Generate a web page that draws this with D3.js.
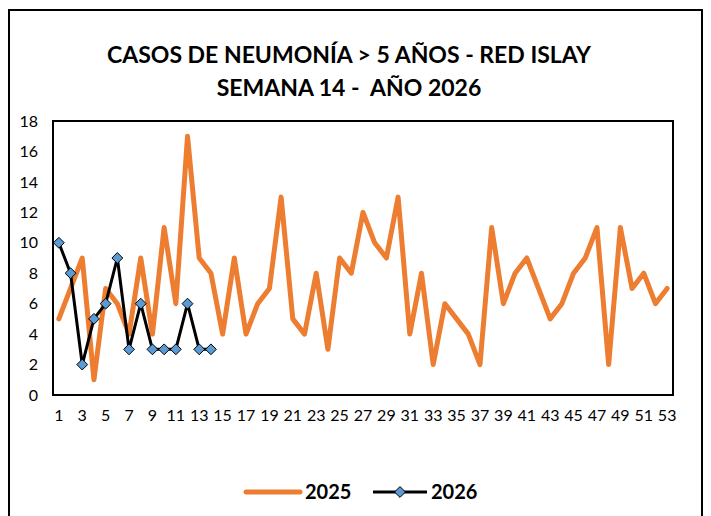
<!DOCTYPE html>
<html>
<head>
<meta charset="utf-8">
<script src="https://cdn.jsdelivr.net/npm/d3@7"></script>
<style>
  body { margin: 0; background: #fff; }
  svg { display: block; font-family: Lato, "Open Sans", sans-serif; }
</style>
</head>
<body>
<svg id="chart" width="711" height="516"></svg>
<script>
var weeks = d3.range(1, 54);
var casos2025 = [5, 7, 9, 1, 7, 6, 4, 9, 4, 11, 6, 17, 9, 8, 4, 9, 4, 6, 7, 13,
                 5, 4, 8, 3, 9, 8, 12, 10, 9, 13, 4, 8, 2, 6, 5, 4, 2, 11, 6, 8,
                 9, 7, 5, 6, 8, 9, 11, 2, 11, 7, 8, 6, 7];
var casos2026 = [10, 8, 2, 5, 6, 9, 3, 6, 3, 3, 3, 6, 3, 3];
var yTicks = [0, 2, 4, 6, 8, 10, 12, 14, 16, 18];
var titleLines = ["CASOS DE NEUMONÍA > 5 AÑOS - RED ISLAY", "SEMANA 14 -  AÑO 2026"];

(function(){
  var svg = d3.select("#chart");
  var pLeft = 53, pRight = 673, pTop = 121, pBottom = 395;

  // outer frame (bottom edge runs past the picture)
  svg.append("rect")
      .attr("x", 9).attr("y", 10)
      .attr("width", 693).attr("height", 530)
      .attr("fill", "none").attr("stroke", "#000").attr("stroke-width", 2);

  svg.selectAll(".title")
    .data(titleLines)
    .enter().append("text")
      .attr("x", 349).attr("y", function(d, i) { return 63 + i * 33; })
      .attr("text-anchor", "middle")
      .attr("font-size", 23).attr("font-weight", "bold")
      .style("white-space", "pre")
      .text(function(d) { return d; });

  var x = d3.scaleBand().domain(weeks).range([pLeft, pRight]);
  var y = d3.scaleLinear().domain([0, 18]).range([pBottom, pTop]);
  var cx = function(d, i) { return x(weeks[i]) + x.bandwidth() / 2; };

  // plot frame
  svg.append("rect")
      .attr("x", pLeft).attr("y", pTop)
      .attr("width", pRight - pLeft).attr("height", pBottom - pTop)
      .attr("fill", "none").attr("stroke", "#000").attr("stroke-width", 2);

  var yAxis = svg.append("g")
      .attr("transform", "translate(" + pLeft + ",0)")
      .call(d3.axisLeft(y).tickValues(yTicks).tickSize(0).tickPadding(15));
  yAxis.select(".domain").remove();
  yAxis.selectAll("text").attr("font-size", 16).attr("fill", "#000")
      .attr("font-family", "Lato, sans-serif");

  var xAxis = svg.append("g")
      .attr("transform", "translate(0," + pBottom + ")")
      .call(d3.axisBottom(x)
        .tickValues(weeks.filter(function(d) { return d % 2 == 1; }))
        .tickSize(0).tickPadding(15));
  xAxis.select(".domain").remove();
  xAxis.selectAll("text").attr("font-size", 16).attr("fill", "#000")
      .attr("font-family", "Lato, sans-serif");

  var line = d3.line().x(cx).y(function(d) { return y(d); });

  svg.append("path")
      .datum(casos2025)
      .attr("d", line)
      .attr("fill", "none").attr("stroke", "#ED7D31")
      .attr("stroke-width", 5).attr("stroke-linejoin", "round").attr("stroke-linecap", "round");

  svg.append("path")
      .datum(casos2026)
      .attr("d", line)
      .attr("fill", "none").attr("stroke", "#000")
      .attr("stroke-width", 3).attr("stroke-linejoin", "round");

  var diamond = d3.symbol().type(d3.symbolDiamond2).size(75);
  svg.selectAll(".pt")
    .data(casos2026)
    .enter().append("path")
      .attr("class", "pt")
      .attr("d", diamond)
      .attr("transform", function(d, i) { return "translate(" + cx(d, i) + "," + y(d) + ")"; })
      .attr("fill", "#5B9BD5").attr("stroke", "#000").attr("stroke-width", 1);

  // legend
  var legend = svg.append("g").attr("transform", "translate(0,492)");
  legend.append("line").attr("x1", 246).attr("x2", 300).attr("y1", 0).attr("y2", 0)
      .attr("stroke", "#ED7D31").attr("stroke-width", 5).attr("stroke-linecap", "round");
  legend.append("text").attr("x", 305).attr("y", 7)
      .attr("font-size", 20).attr("font-weight", "bold").text("2025");
  legend.append("line").attr("x1", 373).attr("x2", 427).attr("y1", 0).attr("y2", 0)
      .attr("stroke", "#000").attr("stroke-width", 3);
  legend.append("path").attr("d", diamond)
      .attr("transform", "translate(400,0)")
      .attr("fill", "#5B9BD5").attr("stroke", "#000").attr("stroke-width", 1);
  legend.append("text").attr("x", 431).attr("y", 7)
      .attr("font-size", 20).attr("font-weight", "bold").text("2026");
})();
</script>
</body>
</html>
